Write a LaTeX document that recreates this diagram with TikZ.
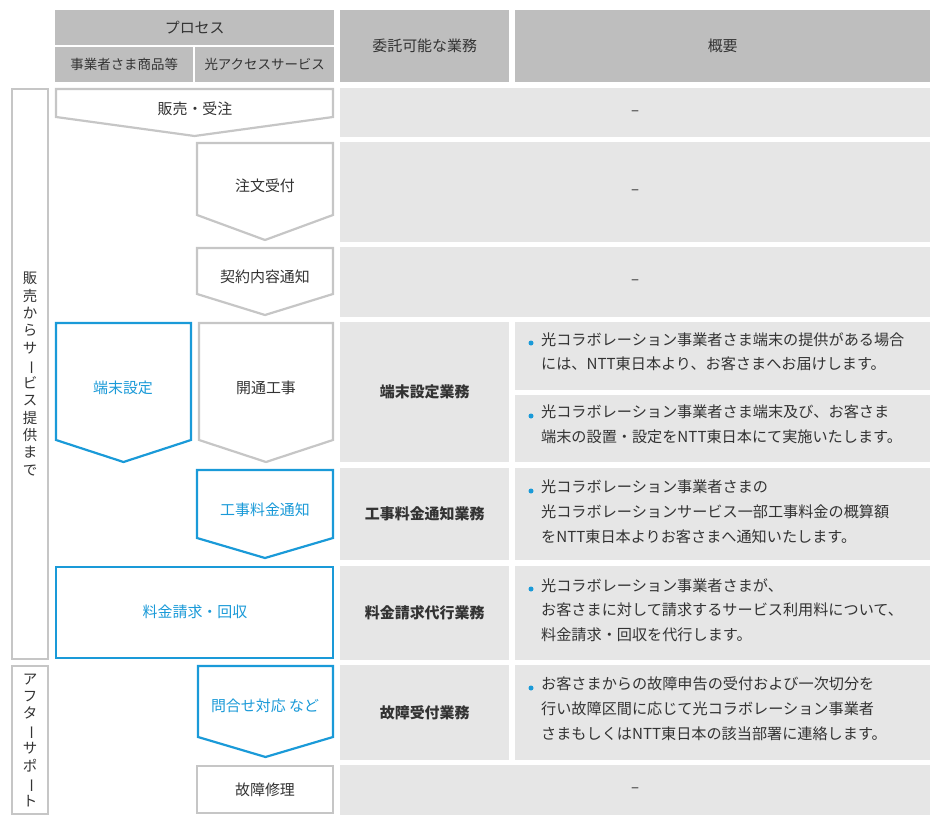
\documentclass[tikz,border=0pt]{standalone}
\usepackage{fontspec}
\setmainfont{Noto Sans CJK JP}
\definecolor{hdr}{HTML}{BEBEBE}
\definecolor{cellg}{HTML}{E6E6E6}
\definecolor{bord}{HTML}{C6C6C6}
\definecolor{blu}{HTML}{1A9AD8}
\definecolor{txt}{HTML}{333333}
\newcommand{\cellbox}[7]{% name x1 y1 x2 y2 fill text
  \node[#6, anchor=north west, minimum width=#4bp-#2bp, minimum height=#5bp-#3bp] (#1) at (#2,#3) {#7};}
\newcommand{\pent}[7]{% name x1 y1 x2 yside ytip colorstyle
  \draw[#7] (#2,#3) -- (#4,#3) -- (#4,#5) -- ({(#2+#4)/2},#6) -- (#2,#5) -- cycle;}
\begin{document}
\begin{tikzpicture}[x=1bp,y=-1bp, font=\fontsize{15}{18}\selectfont, text=txt,
  hd/.style={fill=hdr, inner sep=0, draw=none},
  cg/.style={fill=cellg, inner sep=0, draw=none},
  gr/.style={draw=bord, line width=2.2bp, fill=white, line join=miter},
  bl/.style={draw=blu, line width=2.2bp, fill=white, line join=miter},
  lbl/.style={inner sep=0},
  bt/.style={inner sep=0, anchor=north west, align=left, font=\fontsize{15.2}{25}\selectfont},
  dot/.style={circle, fill=blu, inner sep=0, minimum size=5bp},
  vl/.style={inner sep=0, align=center, font=\fontsize{14.5}{17.5}\selectfont}]
\useasboundingbox (0,0) rectangle (938,821);
% header
\cellbox{hp}{55}{10}{334}{45}{hd}{プロセス}
\cellbox{hs1}{55}{47}{193}{82}{hd,font=\fontsize{13.5}{16}\selectfont}{事業者さま商品等}
\cellbox{hs2}{195}{47}{334}{82}{hd,font=\fontsize{13.5}{16}\selectfont}{光アクセスサービス}
\cellbox{hi}{340}{10}{509}{82}{hd}{委託可能な業務}
\cellbox{ho}{515}{10}{930}{82}{hd}{概要}
% left vertical labels
\draw[gr] (12,89) rectangle (48,659);
\node[vl] (v1) at (30,374) {販\\売\\か\\ら\\サ\\\rotatebox[origin=c]{-90}{ー}\\ビ\\ス\\提\\供\\ま\\で};
\draw[gr] (12,666) rectangle (48,814);
\node[vl] (v2) at (30,740) {ア\\フ\\タ\\\rotatebox[origin=c]{-90}{ー}\\サ\\ポ\\\rotatebox[origin=c]{-90}{ー}\\ト};
% right cells
\cellbox{r1}{340}{88}{930}{137}{cg}{–}
\cellbox{r2}{340}{142}{930}{242}{cg}{–}
\cellbox{r3}{340}{247}{930}{317}{cg}{–}
\cellbox{r4}{340}{322}{509}{462}{cg,font=\bfseries\fontsize{15}{18}\selectfont}{端末設定業務}
\cellbox{r4a}{515}{322}{930}{390}{cg}{}
\cellbox{r4b}{515}{395}{930}{462}{cg}{}
\cellbox{r5}{340}{468}{509}{560}{cg,font=\bfseries\fontsize{15}{18}\selectfont}{工事料金通知業務}
\cellbox{r5a}{515}{468}{930}{560}{cg}{}
\cellbox{r6}{340}{566}{509}{660}{cg,font=\bfseries\fontsize{15}{18}\selectfont}{料金請求代行業務}
\cellbox{r6a}{515}{566}{930}{660}{cg}{}
\cellbox{r7}{340}{665}{509}{760}{cg,font=\bfseries\fontsize{15}{18}\selectfont}{故障受付業務}
\cellbox{r7a}{515}{665}{930}{760}{cg}{}
\cellbox{r8}{340}{765}{930}{815}{cg}{–}
% bullet texts
\node[dot] (d1) at (531,343) {};
\node[bt] (t1) at (541,332) {光コラボレーション事業者さま端末の提供がある場合\\には、NTT東日本より、お客さまへお届けします。};
\node[dot] (d2) at (531,416) {};
\node[bt] (t2) at (541,405) {光コラボレーション事業者さま端末及び、お客さま\\端末の設置・設定をNTT東日本にて実施いたします。};
\node[dot] (d3) at (531,491) {};
\node[bt] (t3) at (541,480) {光コラボレーション事業者さまの\\光コラボレーションサービス一部工事料金の概算額\\をNTT東日本よりお客さまへ通知いたします。};
\node[dot] (d4) at (531,589) {};
\node[bt] (t4) at (541,578) {光コラボレーション事業者さまが、\\お客さまに対して請求するサービス利用料について、\\料金請求・回収を代行します。};
\node[dot] (d5) at (531,688) {};
\node[bt] (t5) at (541,677) {お客さまからの故障申告の受付および一次切分を\\行い故障区間に応じて光コラボレーション事業者\\さまもしくはNTT東日本の該当部署に連絡します。};
% process shapes
\pent{p1}{56}{89}{333}{117}{136}{gr}
\node[lbl] (p1) at (195,109) {販売・受注};
\pent{p2}{197}{143}{333}{215}{240}{gr}
\node[lbl] (p2) at (265,186) {注文受付};
\pent{p3}{197}{248}{333}{294}{315}{gr}
\node[lbl] (p3) at (265,277) {契約内容通知};
\pent{p4}{199}{323}{333}{440}{462}{gr}
\node[lbl] (p4) at (266,388) {開通工事};
\pent{p5}{56}{323}{191}{440}{462}{bl}
\node[lbl, text=blu] (p5) at (123,388) {端末設定};
\pent{p6}{197}{470}{333}{538}{558}{bl}
\node[lbl, text=blu] (p6) at (265,510) {工事料金通知};
\draw[bl] (56,567) rectangle (333,658);
\node[lbl, text=blu] (p7) at (195,612) {料金請求・回収};
\pent{p8}{198}{666}{333}{737}{757}{bl}
\node[lbl, text=blu] (p8) at (265,706) {問合せ対応 など};
\draw[gr] (197,766) rectangle (333,813);
\node[lbl] (p9) at (265,790) {故障修理};
\end{tikzpicture}
\end{document}
